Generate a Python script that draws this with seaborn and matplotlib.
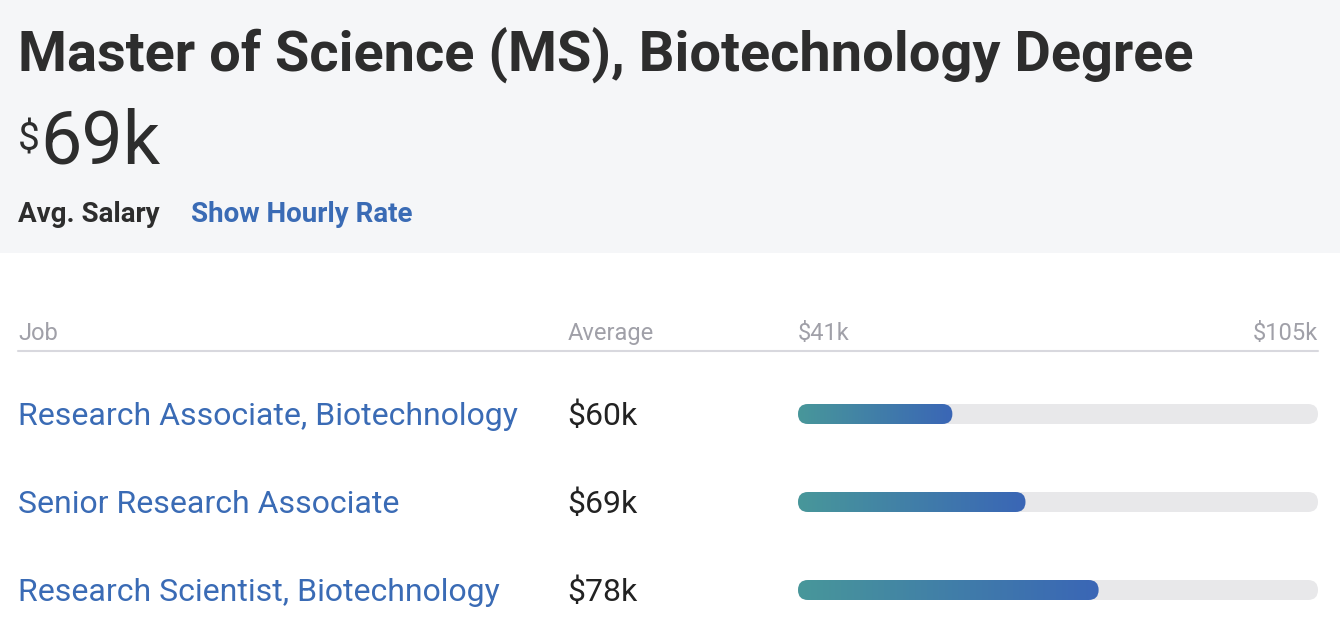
import numpy as np
import pandas as pd
import seaborn as sns
import matplotlib.pyplot as plt
from matplotlib.patches import FancyBboxPatch, Rectangle
from matplotlib.lines import Line2D
from matplotlib.colors import LinearSegmentedColormap
from matplotlib.transforms import blended_transform_factory

# data
degree = "Master of Science (MS), Biotechnology Degree"
overall_avg = "69k"
jobs = ["Research Associate, Biotechnology",
        "Senior Research Associate",
        "Research Scientist, Biotechnology"]
avg_salary_k = [60, 69, 78]
range_min_k = 41
range_max_k = 105

W, H = 1340, 630
ROW_PX = 88       # vertical spacing between rows
BAR_PX = 20       # bar thickness

sns.set_theme(style="white")
plt.rcParams['font.family'] = ['Roboto', 'DejaVu Sans']

fig = plt.figure(figsize=(W / 100, H / 100), dpi=100)
fig.patch.set_facecolor('white')


def fx(px):
    return px / W


def fy(py):
    return 1 - py / H


# header panel
fig.patches.append(Rectangle((0, fy(253)), 1, 253 / H, transform=fig.transFigure,
                             facecolor='#f5f6f8', edgecolor='none', zorder=0))
fig.text(fx(18), fy(71), degree, fontsize=40.3, fontweight='bold', color='#2d2d2d')
fig.text(fx(18), fy(150), "\\$", fontsize=28, color='#2d2d2d')
fig.text(fx(40), fy(163), overall_avg, fontsize=53, color='#2d2d2d')
fig.text(fx(18), fy(222), "Avg. Salary", fontsize=20, fontweight='bold', color='#2d2d2d')
fig.text(fx(191), fy(222), "Show Hourly Rate", fontsize=20, fontweight='bold', color='#3a6bb5')

# table header
hdr = dict(fontsize=17, color='#a0a0a8')
fig.text(fx(18), fy(340), "Job", **hdr)
fig.text(fx(568), fy(340), "Average", **hdr)
fig.text(fx(798), fy(340), f"\\${range_min_k}k", **hdr)
fig.text(fx(1318), fy(340), f"\\${range_max_k}k", ha='right', **hdr)
fig.lines.append(Line2D([fx(18), fx(1318)], [fy(351), fy(351)], transform=fig.transFigure,
                        color='#d8d8de', linewidth=1.5))

# bar axes
top_px, left_px, right_px = 370, 798, 1318
ax_h = H - top_px
ax = fig.add_axes([fx(left_px), 0, (right_px - left_px) / W, ax_h / H])

span = range_max_k - range_min_k
df = pd.DataFrame({
    "job": jobs,
    "track": [span] * len(jobs),
    "offset": [v - range_min_k for v in avg_salary_k],
})
width = BAR_PX / ROW_PX
sns.barplot(data=df, x="track", y="job", width=width, color='#e8e8ea', ax=ax)
sns.barplot(data=df, x="offset", y="job", width=width, color='#3a68b5', ax=ax)

sx = (right_px - left_px) / span
aspect = sx / ROW_PX
r = (BAR_PX / 2) / sx
cmap = LinearSegmentedColormap.from_list("tealblue", ['#48979a', '#3a66b6'])
grad = np.linspace(0, 1, 256).reshape(1, -1)

n = len(jobs)
for i, p in enumerate(list(ax.patches)):
    x0, y0, w, h = p.get_x(), p.get_y(), p.get_width(), p.get_height()
    p.set_visible(False)
    rounded = FancyBboxPatch((x0, y0), w, h, boxstyle=f"round,pad=0,rounding_size={r}",
                             mutation_aspect=aspect, facecolor=p.get_facecolor(),
                             edgecolor='none', transform=ax.transData)
    if i < n:
        ax.add_patch(rounded)
    else:
        rounded.set_visible(False)
        ax.add_patch(rounded)
        im = ax.imshow(grad, cmap=cmap, extent=(x0, x0 + w, y0 + h, y0),
                       aspect='auto', zorder=3)
        im.set_clip_path(rounded)

ax.set_xlim(0, span)
ax.set_ylim(-0.5 + ax_h / ROW_PX, -0.5)
ax.axis('off')

# row labels
trans = blended_transform_factory(fig.transFigure, ax.transData)
base = (BAR_PX / 2 + 1) / ROW_PX
for i, (job, v) in enumerate(zip(jobs, avg_salary_k)):
    ax.text(fx(18), i + base, job, transform=trans, fontsize=23, color='#3a6bb5',
            va='baseline', clip_on=False)
    ax.text(fx(567), i + base, f"\\${v}k", transform=trans, fontsize=23, color='#222222',
            va='baseline', clip_on=False)

fig.savefig("out.png", dpi=100)
